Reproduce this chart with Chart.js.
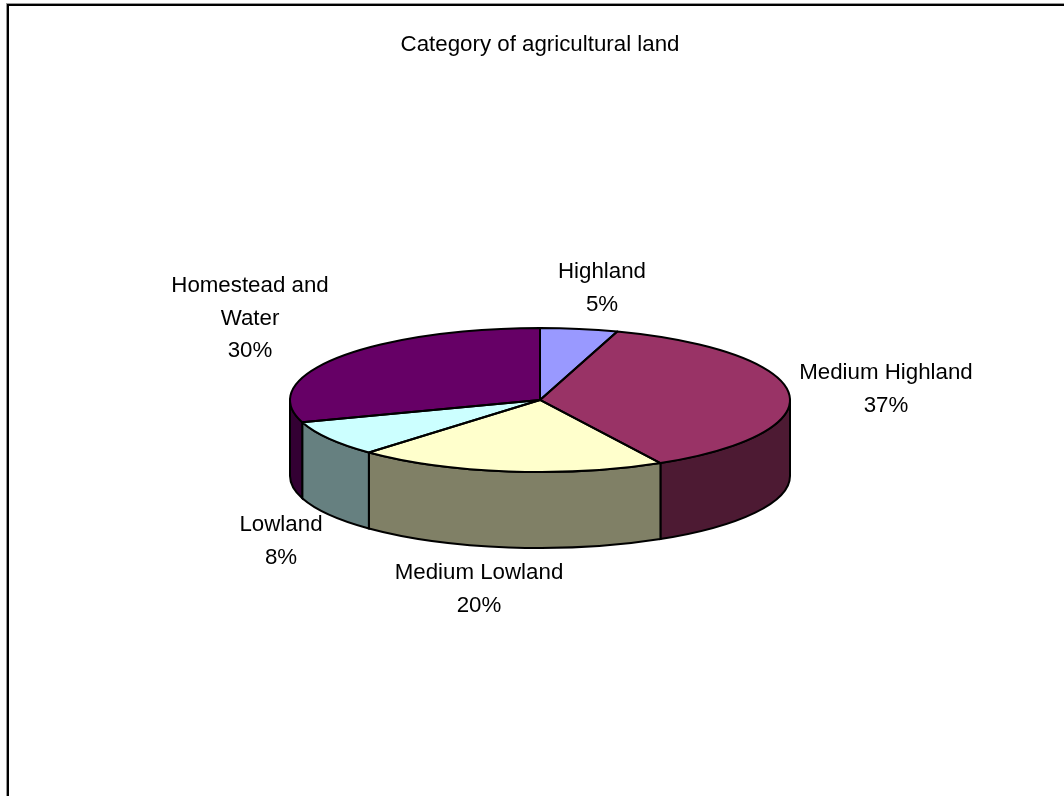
<!DOCTYPE html>
<html>
<head>
<meta charset="utf-8">
<title>Category of agricultural land</title>
<script src="https://cdn.jsdelivr.net/npm/chart.js@4"></script>
<style>
html, body { margin: 0; padding: 0; background: #fff; overflow: hidden; }
#wrap { position: absolute; left: 0; top: 0; width: 1064px; height: 796px; }
#frame { position: absolute; left: 7px; top: 4px; width: 1100px; height: 900px; border: solid #000; border-width: 2px 0 0 2px; box-sizing: border-box; box-shadow: -1px -1px 0 #999; }
#myChart { position: absolute; left: 0; top: 0; }
</style>
</head>
<body>
<div id="wrap">
<div id="frame"></div>
<canvas id="myChart" width="1064" height="796"></canvas>
</div>
<script>
const categories = ['Highland', 'Medium Highland', 'Medium Lowland', 'Lowland', 'Homestead and Water'];
const shares = [5, 37, 20, 8, 30];

const topColors = ['#9999FF', '#993366', '#FFFFCC', '#CCFFFF', '#660066'];
const wallColors = ['#4D4D80', '#4D1A33', '#808066', '#668080', '#330033'];

// label text lines and where they sit (centre x, first line y)
const labelLines = [['Highland'], ['Medium Highland'], ['Medium Lowland'], ['Lowland'], ['Homestead and', 'Water']];
const labelPos = [[602, 272], [886, 373], [479, 573], [281, 525], [250, 286]];

const squash = 72 / 250;
const depth = 76;

function ellipsePath(ctx, cx, cy, r, a0, a1, ccw) {
    ctx.ellipse(cx, cy, r, r * squash, 0, a0, a1, ccw);
}

const pie3d = {
    id: 'pie3d',
    beforeDatasetsDraw(chart) {
        const ctx = chart.ctx;
        const arcs = chart.getDatasetMeta(0).data;
        // side walls, only the front half can be seen
        arcs.forEach(function (arc, i) {
            const from = Math.max(arc.startAngle, 0);
            const to = Math.min(arc.endAngle, Math.PI);
            if (to <= from) return;
            ctx.beginPath();
            ellipsePath(ctx, arc.x, arc.y, arc.outerRadius, from, to, false);
            ellipsePath(ctx, arc.x, arc.y + depth, arc.outerRadius, to, from, true);
            ctx.closePath();
            ctx.fillStyle = wallColors[i];
            ctx.fill();
            ctx.lineWidth = 2;
            ctx.strokeStyle = '#000';
            ctx.stroke();
        });
        // squash the flat pie into the top face
        const c = arcs[0];
        ctx.save();
        ctx.translate(c.x, c.y);
        ctx.scale(1, squash);
        ctx.translate(-c.x, -c.y);
    },
    afterDatasetsDraw(chart) {
        const ctx = chart.ctx;
        ctx.restore();
        const arcs = chart.getDatasetMeta(0).data;
        ctx.lineWidth = 2;
        ctx.strokeStyle = '#000';
        ctx.lineJoin = 'round';
        arcs.forEach(function (arc) {
            ctx.beginPath();
            ctx.moveTo(arc.x, arc.y);
            ellipsePath(ctx, arc.x, arc.y, arc.outerRadius, arc.startAngle, arc.endAngle, false);
            ctx.closePath();
            ctx.stroke();
        });
        ctx.fillStyle = '#000';
        ctx.font = '22.3px "Liberation Sans", Arial, sans-serif';
        ctx.textAlign = 'center';
        ctx.textBaseline = 'middle';
        labelLines.forEach(function (lines, i) {
            const pos = labelPos[i];
            lines.concat(shares[i] + '%').forEach(function (t, k) {
                ctx.fillText(t, pos[0], pos[1] + k * 32.5);
            });
        });
    }
};

function myLoadFunction() {
    const ctx = document.getElementById('myChart').getContext('2d');
    var myChartConfig = {
        type: 'pie',
        data: {
            labels: categories,
            datasets: [{
                data: shares,
                backgroundColor: topColors,
                borderWidth: 0
            }]
        },
        options: {
            responsive: false,
            animation: false,
            layout: { padding: { left: 290, right: 274, top: 0, bottom: 146 } },
            plugins: {
                legend: { display: false },
                tooltip: { enabled: false },
                title: {
                    display: true,
                    text: 'Category of agricultural land',
                    color: '#000',
                    font: { family: '"Liberation Sans", Arial, sans-serif', size: 22.3, weight: 'normal', lineHeight: 1.2 },
                    padding: { top: 31, bottom: 92.2 }
                }
            }
        },
        plugins: [pie3d]
    };
    new Chart(ctx, myChartConfig);
}

document.addEventListener('DOMContentLoaded', myLoadFunction);
</script>
</body>
</html>
